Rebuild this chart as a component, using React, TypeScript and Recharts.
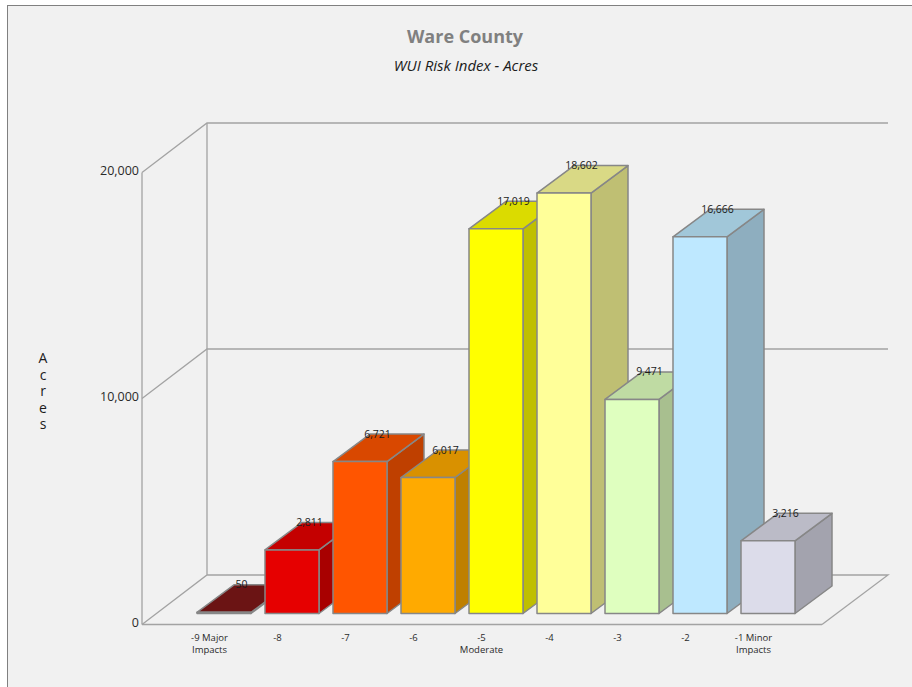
import React from "react";
import { Bar, BarChart, LabelList, ReferenceLine, XAxis, YAxis } from "recharts";

// WUI risk classes and the acreage in each one
const riskClasses = ["-9 Major|Impacts", "-8", "-7", "-6", "-5|Moderate", "-4", "-3", "-2", "-1 Minor|Impacts"];
const acres = [50, 2811, 6721, 6017, 17019, 18602, 9471, 16666, 3216];
const valueTicks = [0, 10000, 20000];
const axisTitleLetters = ["A", "c", "r", "e", "s"];

// Face colours per class
const frontColors = ["#6b1414", "#e60000", "#ff5500", "#ffaa00", "#ffff00", "#ffff99", "#dfffbf", "#bee8ff", "#dcdcea"];
const topColors = ["#6b1414", "#c40000", "#d94800", "#d99100", "#dbdb00", "#d9d985", "#bfdba3", "#a1c7d9", "#bbbbc7"];
const sideColors = ["#5a1010", "#a80000", "#bf4000", "#bf8000", "#bfbf00", "#bfbf73", "#a8bf8f", "#8eaebf", "#a3a3ae"];

const table = riskClasses.map((riskClass, i) => ({ riskClass, acres: acres[i] }));

const FONT = "'Open Sans', 'Noto Sans', sans-serif";
const LINE = "#a3a3a3";
const EDGE = "#878787";

// Oblique projection of the 3D box
const BOX_DX = 37;
const BOX_DY = -27.5;
const BOX_LIFT = 11; // bars stand this far behind the front edge of the floor
const WALL_DX = 65;
const WALL_DY = -49.5;
const WALL_RIGHT = 888;

function Box(props: any) {
  const { x, y, width, height, index } = props;
  const top = y - BOX_LIFT;
  const bottom = y + height - BOX_LIFT;
  const right = x + width;
  const pts = (p: number[][]) => p.map((q) => q.join(",")).join(" ");
  return (
    <g stroke={EDGE} strokeWidth={1.5} strokeLinejoin="round">
      <polygon
        fill={sideColors[index]}
        points={pts([[right, top], [right + BOX_DX, top + BOX_DY], [right + BOX_DX, bottom + BOX_DY], [right, bottom]])}
      />
      <polygon
        fill={topColors[index]}
        points={pts([[x, top], [x + BOX_DX, top + BOX_DY], [right + BOX_DX, top + BOX_DY], [right, top]])}
      />
      <rect x={x} y={top} width={width} height={bottom - top} fill={frontColors[index]} />
    </g>
  );
}

function ValueLabel(props: any) {
  const { x, y, width, value } = props;
  return (
    <text
      x={x + width / 2 + BOX_DX / 2 - 1}
      y={y - BOX_LIFT + BOX_DY - 0.5}
      textAnchor="middle"
      dominantBaseline="central"
      fontFamily={FONT}
      fontSize={10.5}
      fill="#1c1c1c"
    >
      {Number(value).toLocaleString("en-US")}
    </text>
  );
}

function CategoryTick(props: any) {
  const { x, y, payload } = props;
  const lines = String(payload.value).split("|");
  return (
    <text x={x - 14.5} y={y + 8} textAnchor="middle" fontFamily={FONT} fontSize={9.5} fill="#2a2a2a">
      {lines.map((line, i) => (
        <tspan key={i} x={x - 14.5} dy={i === 0 ? 0 : 12}>
          {line}
        </tspan>
      ))}
    </text>
  );
}

function ValueTick(props: any) {
  const { x, y, payload } = props;
  return (
    <text x={x + 5} y={y - 2.5} textAnchor="end" dominantBaseline="central" fontFamily={FONT} fontSize={12.5} fill="#2a2a2a">
      {Number(payload.value).toLocaleString("en-US")}
    </text>
  );
}

// Carries a value line from the front axis up the side wall and along the back wall
function WallLine(props: any) {
  const { x1, y1 } = props;
  const d = `M${x1},${y1} L${x1 + WALL_DX},${y1 + WALL_DY} L${WALL_RIGHT},${y1 + WALL_DY}`;
  return <path d={d} fill="none" stroke={LINE} strokeWidth={1.3} />;
}

// Floor outline, back-wall corner and the rear vertical
function FloorLine(props: any) {
  const { x1, x2, y1 } = props;
  const d =
    `M${x1},${y1} L${x1 + WALL_DX},${y1 + WALL_DY} L${WALL_RIGHT},${y1 + WALL_DY} L${x2},${y1} ` +
    `M${x1 + WALL_DX},${y1 + WALL_DY} V${y1 + WALL_DY - 452}`;
  return <path d={d} fill="none" stroke={LINE} strokeWidth={1.3} />;
}

export default function App() {
  return (
    <div style={{ position: "absolute", left: 0, top: 0, width: 912, height: 687, background: "#ffffff", overflow: "hidden" }}>
      <div
        style={{
          position: "absolute",
          left: 7,
          top: 5,
          width: 905,
          height: 682,
          background: "#f1f1f1",
          borderLeft: "1.5px solid #808080",
          borderTop: "1.5px solid #808080",
          boxSizing: "border-box",
        }}
      />
      <div style={{ position: "absolute", left: 0, top: 0 }}>
        <BarChart width={912} height={687} data={table} margin={{ top: 172.5, right: 90, bottom: 0, left: 0 }}>
          <text x={465} y={43} textAnchor="middle" fontFamily={FONT} fontSize={18} fontWeight={700} fill="#808080">
            Ware County
          </text>
          <text x={466} y={71} textAnchor="middle" fontFamily={FONT} fontSize={15} fontStyle="italic" fill="#1c1c1c">
            WUI Risk Index - Acres
          </text>
          <text fontFamily={FONT} fontSize={14} fill="#1c1c1c" textAnchor="middle">
            {axisTitleLetters.map((letter, i) => (
              <tspan key={i} x={43} y={363 + i * 16.5}>
                {letter}
              </tspan>
            ))}
          </text>
          <XAxis
            dataKey="riskClass"
            height={62.5}
            interval={0}
            padding={{ left: 48, right: 20 }}
            axisLine={{ stroke: LINE, strokeWidth: 1.3 }}
            tickLine={false}
            tick={<CategoryTick />}
          />
          <YAxis
            width={142}
            domain={[0, 20000]}
            ticks={valueTicks}
            axisLine={{ stroke: LINE, strokeWidth: 1.3 }}
            tickLine={false}
            tick={<ValueTick />}
          />
          <ReferenceLine y={0} ifOverflow="visible" zIndex={100} shape={<FloorLine />} />
          <ReferenceLine y={10000} ifOverflow="visible" zIndex={100} shape={<WallLine />} />
          <ReferenceLine y={20000} ifOverflow="visible" zIndex={100} shape={<WallLine />} />
          <Bar dataKey="acres" barSize={54} isAnimationActive={false} shape={<Box />}>
            <LabelList dataKey="acres" content={<ValueLabel />} />
          </Bar>
        </BarChart>
      </div>
    </div>
  );
}
